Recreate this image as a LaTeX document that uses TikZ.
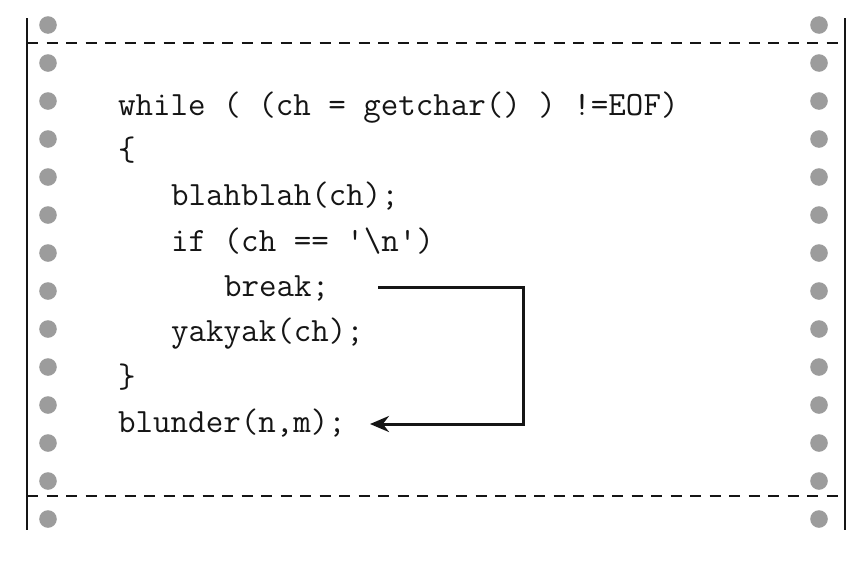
\documentclass[tikz,border=0pt]{standalone}
\usepackage{fontspec}
\usetikzlibrary{arrows.meta}
\definecolor{ink}{HTML}{151515}
\definecolor{hole}{HTML}{9C9C9C}
\tikzset{
  code/.style={anchor=base west, inner sep=0pt, text=ink, font=\fontsize{34}{40}\selectfont\ttfamily},
  edge/.style={draw=ink, line width=2.8pt},
  perf/.style={draw=ink, line width=2.8pt, dash pattern=on 11pt off 8.5pt},
  hole/.style={fill=hole, draw=none},
  jump/.style={draw=ink, line width=3pt, -{Stealth[length=19pt,width=16pt]}}
}
\begin{document}
\begin{tikzpicture}[x=1pt,y=1pt]
\useasboundingbox (0,0) rectangle (866,-568);
% sprocket holes
\foreach \k in {0,...,13}{
  \fill[hole] (48,{-25-38*\k}) circle (8.8);
  \fill[hole] (819,{-25-38*\k}) circle (8.8);
}
% page edges
\coordinate (lt) at (27,-18);
\coordinate (lb) at (27,-530);
\coordinate (rt) at (845,-18);
\coordinate (rb) at (845,-530);
\coordinate (pt1) at (27,-43);
\coordinate (pt2) at (845,-43);
\coordinate (pb1) at (27,-496);
\coordinate (pb2) at (845,-496);
\draw[edge] (lt) -- (lb);
\draw[edge] (rt) -- (rb);
\draw[perf] (pt1) -- (pt2);
\draw[perf] (pb1) -- (pb2);
% code
\node[code] (l1) at (118,-115) {while ( (ch = getchar() ) !=EOF)};
\node[code] (l2) at (118,-160.3) {\{};
\node[code] (l3) at (171,-205.6) {blahblah(ch);};
\node[code] (l4) at (171,-251) {if (ch == '\textbackslash n')};
\node[code] (l5) at (224,-296.3) {break;};
\node[code] (l6) at (171,-341.6) {yakyak(ch);};
\node[code] (l7) at (118,-387) {\}};
\node[code] (l8) at (118,-432.3) {blunder(n,m);};
% jump arrow
\coordinate (a) at (378,-287);
\coordinate (b) at (523,-287);
\coordinate (c) at (523,-424);
\coordinate (d) at (370,-424);
\draw[jump] (a) -- (b) -- (c) -- (d);
\end{tikzpicture}
\end{document}
